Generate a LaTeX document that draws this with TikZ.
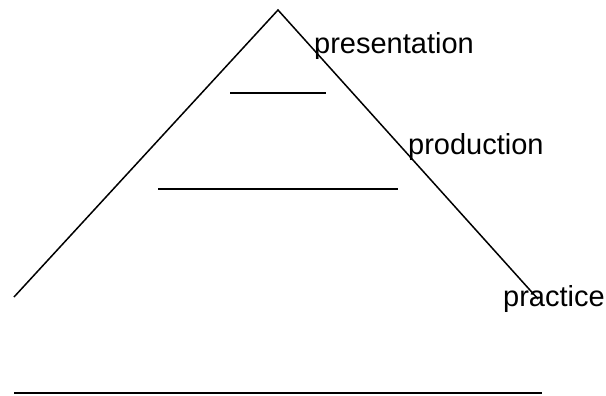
\documentclass[tikz,border=0pt]{standalone}
\usepackage{fontspec}
\setmainfont{Liberation Sans}
\begin{document}
\begin{tikzpicture}[x=1pt,y=-1pt,
  ln/.style={draw=black,line width=1.5pt},
  lbl/.style={inner sep=0pt,anchor=base west,font=\fontsize{29}{35}\selectfont}]
\useasboundingbox (0,0) rectangle (606,396);
\coordinate (apex) at (278,10);
\coordinate (L) at (14,297);
\coordinate (R) at (538,299);
\coordinate (a1) at (230,93); \coordinate (b1) at (326,93);
\coordinate (a2) at (158,189); \coordinate (b2) at (398,189);
\coordinate (a3) at (14,393); \coordinate (b3) at (542,393);
\draw[ln] (L) -- (apex) -- (R);
\draw[ln] (a1) -- (b1);
\draw[ln] (a2) -- (b2);
\draw[ln] (a3) -- (b3);
\node[lbl] (t1) at (314,54) {presentation};
\node[lbl] (t2) at (408,154) {production};
\node[lbl] (t3) at (503,306) {practice};
\end{tikzpicture}
\end{document}
